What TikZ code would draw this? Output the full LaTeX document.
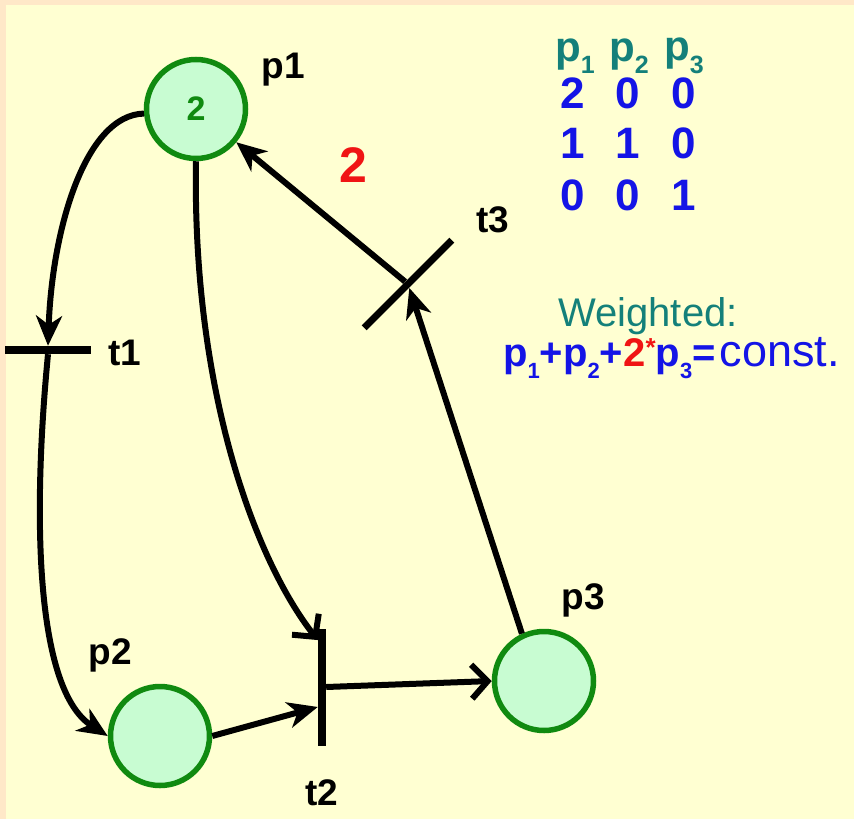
\documentclass[tikz,border=0pt]{standalone}
\usepackage{fontspec}
\setmainfont{Liberation Sans}
\usepackage{graphicx}
\usetikzlibrary{arrows.meta,calc}
\definecolor{bgyellow}{HTML}{FFFFD2}
\definecolor{bgedge}{HTML}{FFE8C8}
\definecolor{placefill}{HTML}{C8FCD2}
\definecolor{placeline}{HTML}{108A10}
\definecolor{tealtxt}{HTML}{14807A}
\definecolor{bluetxt}{HTML}{1414E6}
\definecolor{redtxt}{HTML}{F01414}
\newcommand\sbx[1]{\raisebox{-0.3em}{\fontsize{22}{22}\selectfont #1}}
\newcommand\sbh[1]{\raisebox{-0.3em}{\fontsize{25}{25}\selectfont #1}}
\begin{document}
\begin{tikzpicture}[x=1pt,y=-1pt,
  place/.style={circle, draw=placeline, fill=placefill, line width=5.5pt, minimum size=99pt, inner sep=0pt},
  trans/.style={rectangle, fill=black, inner sep=0pt},
  arc/.style={line width=6pt, -{Stealth[length=30pt,width=26pt,inset=9pt]}},
  openarc/.style={line width=6pt, -{Straight Barb[length=16pt,width=34pt]}},
  lbl/.style={font=\bfseries\fontsize{37}{40}\selectfont, text=black, inner sep=0pt},
  tabhead/.style={font=\bfseries\fontsize{42}{44}\selectfont, text=tealtxt, inner sep=0pt},
  tabnum/.style={font=\bfseries\fontsize{44}{46}\selectfont, text=bluetxt, inner sep=0pt}]
\fill[bgedge] (0,0) rectangle (854,819);
\fill[bgyellow] (6,5) rectangle (854,819);
\useasboundingbox (0,0) rectangle (854,819);

% places
\node[place] (p1) at (196,109) {};
\node[font=\bfseries\fontsize{34}{34}\selectfont, text=placeline, inner sep=0pt] (tok) at (p1) {2};
\node[place] (p2) at (160,736) {};
\node[place] (p3) at (544,681) {};

% transitions
\node[trans, minimum width=86pt, minimum height=8pt] (t1) at (48,350) {};
\node[trans, minimum width=8pt, minimum height=117pt] (t2) at (322,687) {};
\node[trans, minimum width=124pt, minimum height=7pt, rotate=45] (t3) at (408,284) {};

% labels
\node[lbl] (lp1) at (283,70) {p1};
\node[lbl] (lp2) at (110,655) {p2};
\node[lbl] (lp3) at (583,600) {p3};
\node[lbl] (lt1) at (125,353) {t1};
\node[lbl] (lt2) at (322,793) {t2};
\node[lbl] (lt3) at (493,220) {t3};
\node[font=\bfseries\fontsize{50}{52}\selectfont, text=redtxt, inner sep=0pt] (w2) at (353,165) {2};

% arcs
\draw[arc] (p1.185) .. controls (85,115) and (52,230) .. (t1.north);
\draw[arc] (t1.south) .. controls (32,520) and (36,690) .. (p2.west);
\draw[openarc] (p1.south) .. controls (192,390) and (255,560) .. ($(t2.north west)!0.1!(t2.south west)$);
\draw[arc] (p2.east) -- ($(t2.north west)!0.67!(t2.south west)$);
\draw[openarc] (t2.east) -- (p3.west);
\draw[arc] (p3.115) -- (t3);
\draw[arc] (t3) -- (p1);

% table
\node[tabhead] (h1) at (575,56) {p\sbh{1}};
\node[tabhead] (h2) at (629,56) {p\sbh{2}};
\node[tabhead] (h3) at (684,56) {p\sbh{3}};
\foreach \r/\y/\a/\b/\c in {1/93/2/0/0, 2/143/1/1/0, 3/195/0/0/1}{
  \node[tabnum] (r\r a) at (573,\y) {\a};
  \node[tabnum] (r\r b) at (628,\y) {\b};
  \node[tabnum] (r\r c) at (684,\y) {\c};
}

% weighted invariant
\node[font=\fontsize{40}{44}\selectfont, text=tealtxt, inner sep=0pt, anchor=base] (wt) at (648,326) {Weighted:};
\node[font=\fontsize{40}{44}\selectfont, text=bluetxt, inner sep=0pt, anchor=base west] (eq) at (503,366)
  {\textbf{p\sbx{1}+p\sbx{2}+\textcolor{redtxt}{2\raisebox{0.25em}{\fontsize{26}{26}\selectfont *}}p\sbx{3}=}\hspace{4pt}{\fontsize{45}{48}\selectfont const.}};
\end{tikzpicture}
\end{document}
